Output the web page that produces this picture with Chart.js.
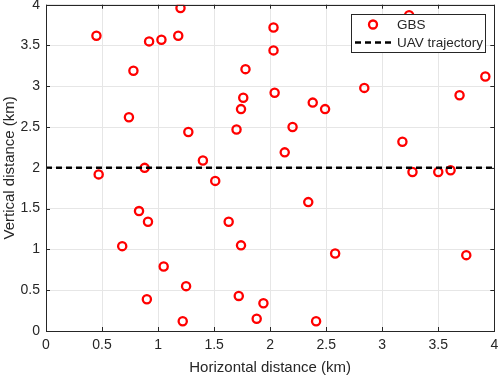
<!DOCTYPE html>
<html>
<head>
<meta charset="utf-8">
<script src="https://cdn.jsdelivr.net/npm/chart.js@4/dist/chart.umd.min.js"></script>
<style>
  body { margin: 0; background: #fff; }
  canvas { display: block; }
</style>
</head>
<body>
<canvas id="gbs-chart" width="498" height="377"></canvas>
<script>
// ====
// Data
// ====

//  Ground base stations (km)
//  -------------------------
const gbsX = [
  0.45, 0.47, 0.78, 0.74, 0.92, 0.88, 1.03, 1.18, 1.20, 1.27, 1.40, 1.51,
  1.70, 1.74, 1.76, 1.78, 2.03, 2.03, 2.04, 2.38, 2.49, 2.20, 2.13, 2.84,
  3.18, 3.27, 3.50, 3.61, 3.69, 3.92, 3.24,
  0.83, 0.91, 0.68, 1.05, 1.25, 0.90, 1.22, 1.63, 1.74, 1.72,
  2.34, 2.58, 3.75, 1.94, 1.88, 2.41,
];
const gbsY = [
  3.62, 1.92, 3.19, 2.62, 3.55, 2.00, 3.57, 3.62, 3.96, 2.44, 2.09, 1.84,
  2.47, 2.72, 2.86, 3.21, 3.72, 3.44, 2.92, 2.80, 2.72, 2.50, 2.19, 2.98,
  2.32, 1.95, 1.95, 1.97, 2.89, 3.12, 3.87,
  1.47, 1.34, 1.04, 0.79, 0.55, 0.39, 0.12, 1.34, 1.05, 0.43,
  1.58, 0.95, 0.93, 0.34, 0.15, 0.12,
];

//  UAV trajectory
//  --------------
const uavX = [0, 4];
const uavY = [2, 2];

//  Axes
//  ----
const xTicks = [0, 0.5, 1, 1.5, 2, 2.5, 3, 3.5, 4];
const yTicks = [0, 0.5, 1, 1.5, 2, 2.5, 3, 3.5, 4];

const textColor = '#262626';
const fontFamily = '"Liberation Sans", Arial, sans-serif';

const toPoints = (xs, ys) => xs.map((x, i) => ({x: x, y: ys[i]}));

// ======================
// Inside ticks + box
// ======================
const boxPlugin = {
  id: 'box',
  afterDatasetsDraw(chart) {
    const {ctx, chartArea: a, scales} = chart;
    ctx.save();
    ctx.strokeStyle = textColor;
    ctx.lineWidth = 1;
    ctx.beginPath();
    xTicks.forEach((t) => {
      const px = Math.round(scales.x.getPixelForValue(t)) + 0.5;
      ctx.moveTo(px, a.bottom);
      ctx.lineTo(px, a.bottom - 4);
      ctx.moveTo(px, a.top);
      ctx.lineTo(px, a.top + 4);
    });
    yTicks.forEach((t) => {
      const py = Math.round(scales.y.getPixelForValue(t)) + 0.5;
      ctx.moveTo(a.left, py);
      ctx.lineTo(a.left + 4, py);
      ctx.moveTo(a.right, py);
      ctx.lineTo(a.right - 4, py);
    });
    ctx.stroke();
    ctx.strokeRect(Math.round(a.left) + 0.5, Math.round(a.top) + 0.5,
                   Math.round(a.right - a.left), Math.round(a.bottom - a.top));
    ctx.restore();
  },
};

// ======
// Legend
// ======
const legendPlugin = {
  id: 'innerLegend',
  afterDraw(chart) {
    const {ctx} = chart;
    const sets = chart.data.datasets;
    const x0 = 351.5, y0 = 14.5, w = 134, h = 38;
    ctx.save();
    ctx.fillStyle = '#fff';
    ctx.fillRect(x0, y0, w, h);
    ctx.strokeStyle = textColor;
    ctx.lineWidth = 1;
    ctx.strokeRect(x0, y0, w, h);

    ctx.font = '13.5px ' + fontFamily;
    ctx.fillStyle = textColor;
    ctx.textBaseline = 'middle';

    // GBS marker
    ctx.beginPath();
    ctx.arc(373, 24.5, 4, 0, Math.PI * 2);
    ctx.strokeStyle = '#ff0000';
    ctx.lineWidth = 2.3;
    ctx.stroke();
    ctx.fillText(sets[1].label, 397, 25);

    // UAV line
    ctx.beginPath();
    ctx.setLineDash([6, 4]);
    ctx.strokeStyle = '#000';
    ctx.lineWidth = 2.5;
    ctx.moveTo(355, 42.5);
    ctx.lineTo(391, 42.5);
    ctx.stroke();
    ctx.setLineDash([]);
    ctx.fillText(sets[0].label, 397, 43);
    ctx.restore();
  },
};

// =====
// Chart
// =====
new Chart(document.getElementById('gbs-chart'), {
  type: 'scatter',
  data: {
    datasets: [
      {
        type: 'line',
        label: 'UAV trajectory',
        data: toPoints(uavX, uavY),
        borderColor: '#000',
        borderWidth: 2.5,
        borderDash: [6, 4],
        pointRadius: 0,
        fill: false,
        order: 0,
      },
      {
        label: 'GBS',
        data: toPoints(gbsX, gbsY),
        borderColor: '#ff0000',
        backgroundColor: 'rgba(0,0,0,0)',
        borderWidth: 2.3,
        pointRadius: 4.1,
        order: 1,
      },
    ],
  },
  options: {
    responsive: false,
    animation: false,
    layout: {
      autoPadding: false,
      padding: {top: 4.7, right: 3.7, left: 0, bottom: 0},
    },
    plugins: {
      legend: {display: false},
      tooltip: {enabled: false},
    },
    scales: {
      x: {
        type: 'linear',
        min: 0,
        max: 4,
        afterFit: (scale) => {
          scale.height = 46;
          scale.paddingLeft = 0;
          scale.paddingRight = 0;
        },
        afterBuildTicks: (scale) => { scale.ticks = xTicks.map((v) => ({value: v})); },
        ticks: {
          color: textColor,
          padding: 6,
          font: {family: fontFamily, size: 14},
          callback: (v) => String(v),
        },
        grid: {color: '#e6e6e6', drawTicks: false},
        border: {display: false},
        title: {
          display: true,
          text: 'Horizontal distance (km)',
          color: textColor,
          font: {family: fontFamily, size: 15},
          padding: {top: 2, bottom: 0},
        },
      },
      y: {
        type: 'linear',
        min: 0,
        max: 4,
        afterFit: (scale) => {
          scale.width = 46;
          scale.paddingTop = 0;
          scale.paddingBottom = 0;
        },
        afterBuildTicks: (scale) => { scale.ticks = yTicks.map((v) => ({value: v})); },
        ticks: {
          color: textColor,
          padding: 6,
          font: {family: fontFamily, size: 14},
          callback: (v) => String(v),
        },
        grid: {color: '#e6e6e6', drawTicks: false},
        border: {display: false},
        title: {
          display: true,
          text: 'Vertical distance (km)',
          color: textColor,
          font: {family: fontFamily, size: 15},
          padding: {top: 1, bottom: 0},
        },
      },
    },
  },
  plugins: [boxPlugin, legendPlugin],
});
</script>
</body>
</html>
